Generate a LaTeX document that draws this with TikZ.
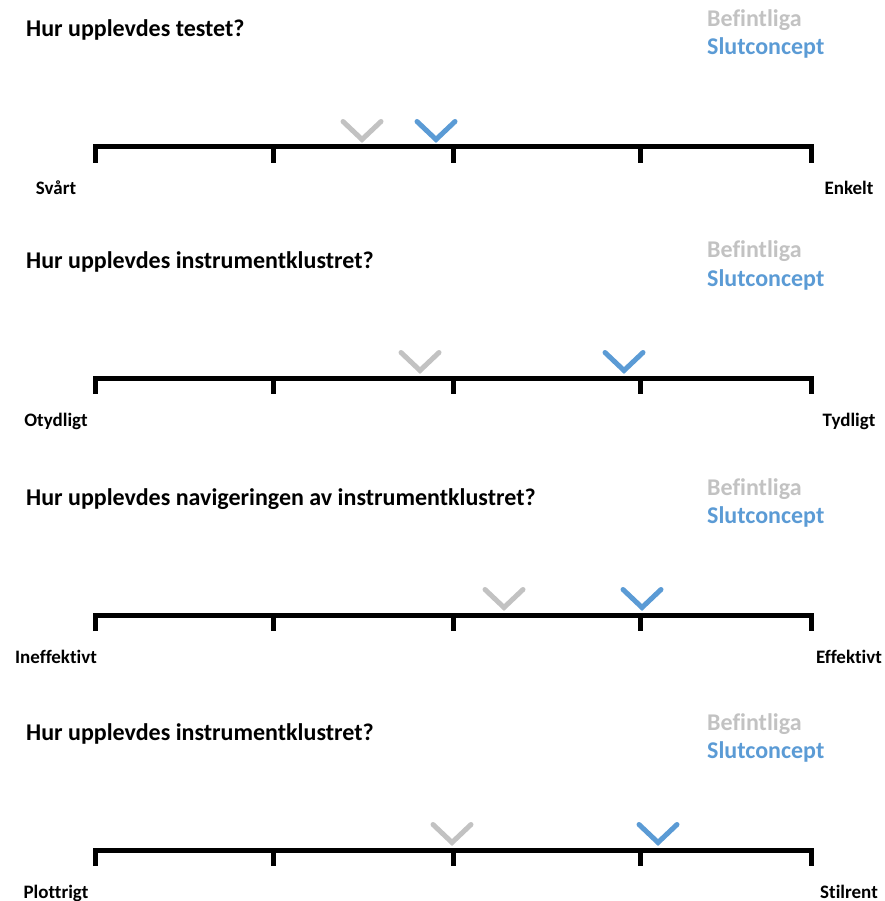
\documentclass[tikz,border=0pt]{standalone}
\usepackage{fontspec}
\setmainfont{Carlito}[Ligatures=NoCommon]
\usepackage{tikz}
\usetikzlibrary{positioning}
\definecolor{befgray}{HTML}{C2C2C2}
\definecolor{slutblue}{HTML}{5B9BD5}
\tikzset{>=stealth,
	scaleline/.style = {line width=5pt, line join=miter},
	befintliga/.style = {befgray, line width=5pt, line cap=round},
	slutconcept/.style = {slutblue, line width=5pt, line cap=round},
	question/.style = {anchor=base west, inner sep=0pt, font=\fontsize{24}{28}\selectfont\bfseries},
	legendtext/.style = {anchor=base west, inner sep=0pt, font=\fontsize{24}{28}\selectfont\bfseries},
	endlabel/.style = {anchor=base, inner sep=0pt, font=\fontsize{19}{22}\selectfont\bfseries}}

\begin{document}
\begin{tikzpicture}[x=1pt, y=-1pt]
	\useasboundingbox (0,0) rectangle (884,901);

	% panel 1
	\node [question] (q1) at (26,37) {Hur upplevdes testet?};
	\node [legendtext, befgray] (bef1) at (707,27) {Befintliga};
	\node [legendtext, slutblue] (slut1) at (707,55) {Slutconcept};
	\draw [scaleline] (95,163) -- (95,147) -- (811,147) -- (811,163);
	\draw [scaleline] (273,147) -- ++(0,16);
	\draw [scaleline] (453,147) -- ++(0,16);
	\draw [scaleline] (640,147) -- ++(0,16);
	\draw [befintliga] (343,121.5) -- ++(19,18) -- ++(19,-18);
	\draw [slutconcept] (417,121.5) -- ++(19,18) -- ++(19,-18);
	\node [endlabel] (left1) at (56,195) {Svårt};
	\node [endlabel] (right1) at (849,195) {Enkelt};

	% panel 2
	\node [question] (q2) at (26,268) {Hur upplevdes instrumentklustret?};
	\node [legendtext, befgray] (bef2) at (707,258) {Befintliga};
	\node [legendtext, slutblue] (slut2) at (707,286) {Slutconcept};
	\draw [scaleline] (95,394) -- (95,378) -- (811,378) -- (811,394);
	\draw [scaleline] (273,378) -- ++(0,16);
	\draw [scaleline] (453,378) -- ++(0,16);
	\draw [scaleline] (640,378) -- ++(0,16);
	\draw [befintliga] (401,352.5) -- ++(19,18) -- ++(19,-18);
	\draw [slutconcept] (605,352.5) -- ++(19,18) -- ++(19,-18);
	\node [endlabel] (left2) at (56,426) {Otydligt};
	\node [endlabel] (right2) at (849,426) {Tydligt};

	% panel 3
	\node [question] (q3) at (26,505) {Hur upplevdes navigeringen av instrumentklustret?};
	\node [legendtext, befgray] (bef3) at (707,495) {Befintliga};
	\node [legendtext, slutblue] (slut3) at (707,523) {Slutconcept};
	\draw [scaleline] (95,631) -- (95,615) -- (811,615) -- (811,631);
	\draw [scaleline] (273,615) -- ++(0,16);
	\draw [scaleline] (453,615) -- ++(0,16);
	\draw [scaleline] (640,615) -- ++(0,16);
	\draw [befintliga] (485,589.5) -- ++(19,18) -- ++(19,-18);
	\draw [slutconcept] (623,589.5) -- ++(19,18) -- ++(19,-18);
	\node [endlabel] (left3) at (56,663) {Ineffektivt};
	\node [endlabel] (right3) at (849,663) {Effektivt};

	% panel 4
	\node [question] (q4) at (26,740) {Hur upplevdes instrumentklustret?};
	\node [legendtext, befgray] (bef4) at (707,730) {Befintliga};
	\node [legendtext, slutblue] (slut4) at (707,758) {Slutconcept};
	\draw [scaleline] (95,866) -- (95,850) -- (811,850) -- (811,866);
	\draw [scaleline] (273,850) -- ++(0,16);
	\draw [scaleline] (453,850) -- ++(0,16);
	\draw [scaleline] (640,850) -- ++(0,16);
	\draw [befintliga] (433,824.5) -- ++(19,18) -- ++(19,-18);
	\draw [slutconcept] (639,824.5) -- ++(19,18) -- ++(19,-18);
	\node [endlabel] (left4) at (56,898) {Plottrigt};
	\node [endlabel] (right4) at (849,898) {Stilrent};

\end{tikzpicture}
\end{document}
